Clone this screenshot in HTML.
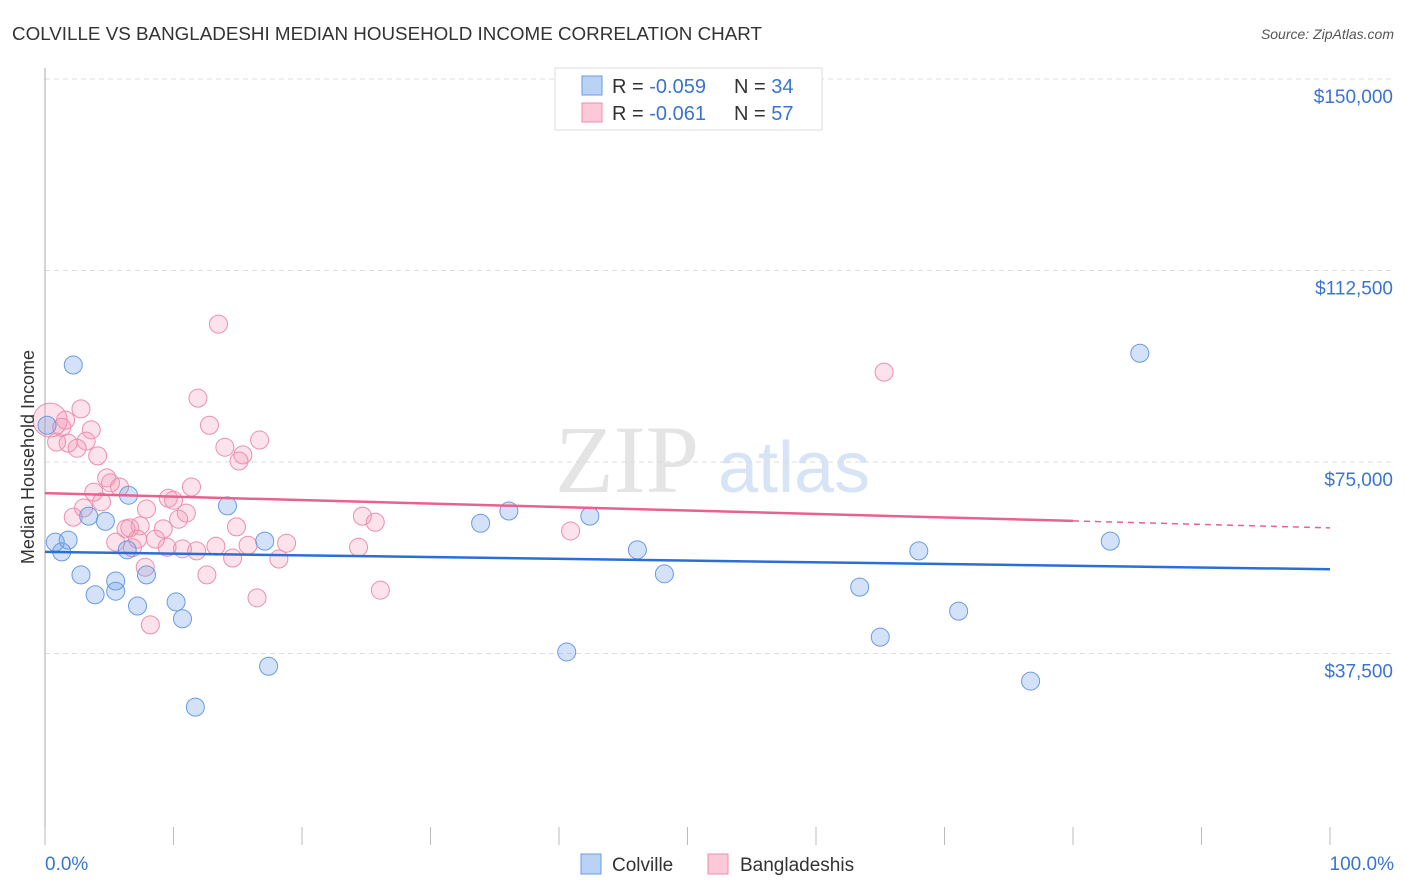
<!DOCTYPE html>
<html><head><meta charset="utf-8"><style>
body{margin:0;background:#fff;font-family:"Liberation Sans",sans-serif;}
svg{display:block}
</style></head><body>
<svg id="chart" width="1406" height="892">
<text x="12" y="40" font-size="18" fill="#333" textLength="750" lengthAdjust="spacingAndGlyphs">COLVILLE VS BANGLADESHI MEDIAN HOUSEHOLD INCOME CORRELATION CHART</text>
<text x="1394" y="39" font-size="14" fill="#555" font-style="italic" text-anchor="end">Source: ZipAtlas.com</text>
<text x="555" y="492" font-size="96" fill="#e4e4e4" font-family="Liberation Serif">ZIP</text>
<text x="718" y="492" font-size="72" fill="#d6e4f5">atlas</text>
<g id="grid"></g>
<g id="axes"></g>
<g id="marks"></g>
<text transform="translate(34,457) rotate(-90)" font-size="18" fill="#333" text-anchor="middle">Median Household Income</text>
<g>
<rect x="555" y="68" width="267" height="62" fill="#fff" stroke="#ddd"/>
<rect x="582" y="76" width="20" height="19" fill="#b9d2f5" stroke="#6a9be0"/>
<rect x="582" y="103" width="20" height="19" fill="#fbc9d8" stroke="#eb8fae"/>
<text x="612" y="93" font-size="20" fill="#333">R = <tspan fill="#3a74d0">-0.059</tspan></text>
<text x="734" y="93" font-size="20" fill="#333">N = <tspan fill="#3a74d0">34</tspan></text>
<text x="612" y="120" font-size="20" fill="#333">R = <tspan fill="#3a74d0"> -0.061</tspan></text>
<text x="734" y="120" font-size="20" fill="#333">N = <tspan fill="#3a74d0">57</tspan></text>
</g>
<g>
<rect x="581" y="854" width="20" height="20" fill="#b9d2f5" stroke="#6a9be0"/>
<text x="612" y="871" font-size="19" fill="#333">Colville</text>
<rect x="708" y="854" width="20" height="20" fill="#fbc9d8" stroke="#eb8fae"/>
<text x="740" y="871" font-size="19" fill="#333">Bangladeshis</text>
</g>
</svg>
<script>
const yTicks=[37500,75000,112500,150000];
const yTickLabels=["$37,500","$75,000","$112,500","$150,000"];
const blueX=[0.16,2.2,0.8,1.8,1.3,2.8,3.9,3.4,4.7,6.5,6.4,5.5,5.5,7.2,7.9,10.2,10.7,11.7,14.2,17.1,17.4,33.9,36.1,40.6,42.4,46.1,48.2,63.4,65.0,68.0,71.1,76.7,82.9,85.2];
const blueY=[82200,94000,59300,59700,57400,52900,49000,64400,63400,68500,57800,51700,49700,46800,52900,47600,44300,27000,66400,59500,35000,63000,65400,37800,64400,57800,53100,50500,40700,57600,45800,32100,59500,96300];
const pinkX=[0.4,1.6,2.8,3.6,3.2,2.5,1.8,0.9,1.3,4.1,11.9,12.8,14.0,15.4,15.1,16.7,13.5,4.8,5.1,5.8,3.8,4.4,2.2,7.9,9.6,10.0,11.4,11.0,10.4,7.4,6.3,6.6,9.2,7.2,5.5,8.6,9.5,10.7,11.8,13.3,14.9,15.8,14.6,6.8,18.8,18.2,12.6,7.8,8.2,16.5,24.7,25.7,24.4,26.1,40.9,65.3,3.0];
const pinkY=[83200,83200,85400,81300,79100,77700,78700,78900,81800,76200,87500,82200,77900,76400,75200,79300,102000,71900,70900,70100,69100,67200,64200,65800,67900,67500,70100,65000,63800,62500,61900,62100,61900,59900,59300,59900,58300,58000,57600,58500,62300,58700,56200,58200,59100,56000,52900,54400,43100,48400,64400,63200,58300,49900,61500,92600,66000];
const blueTrend=[57400,54000];
const pinkTrend=[68900,62100];
const pinkSolidEnd=80;
const NS="http://www.w3.org/2000/svg";
const X=p=>45+p*12.85;
const Y=v=>845-v/37500*191.5;
function mk(tag,attrs,parent){const e=document.createElementNS(NS,tag);for(const k in attrs)e.setAttribute(k,attrs[k]);document.getElementById(parent).appendChild(e);return e;}
yTicks.forEach((t,i)=>{
  const g=mk('line',{x1:45,x2:1394,y1:Y(t),y2:Y(t),stroke:'#ddd','stroke-dasharray':'5,4'},'grid');
  
  
  const l=mk('text',{x:1393,y:Y(t)+24,'font-size':19,fill:'#3a74d0','text-anchor':'end'},'grid');
  l.textContent=yTickLabels[i];
  
  
});
const ya=mk('line',{x1:45,x2:45,y1:68,y2:845,stroke:'#aaa'},'axes');


for(let i=0;i<=10;i++){
  const t=mk('line',{x1:X(i*10),x2:X(i*10),y1:827,y2:845,stroke:'#bbb'},'axes');
  
  
}
const x0=mk('text',{x:45,y:870,'font-size':19,fill:'#3a74d0'},'axes');x0.textContent='0.0%';


const x1=mk('text',{x:1394,y:870,'font-size':19,fill:'#3a74d0','text-anchor':'end'},'axes');x1.textContent='100.0%';


pinkX.forEach((x,i)=>{
  const c=mk('circle',{cx:X(x),cy:Y(pinkY[i]),r:i===0?17:9,fill:'rgba(244,150,180,0.28)',stroke:'#eb8fae','stroke-width':1},'marks');
  
  
});
blueX.forEach((x,i)=>{
  const c=mk('circle',{cx:X(x),cy:Y(blueY[i]),r:9,fill:'rgba(110,160,235,0.3)',stroke:'#6a9be0','stroke-width':1},'marks');
  
  
});
const bt=mk('line',{x1:X(0),x2:X(100),y1:Y(blueTrend[0]),y2:Y(blueTrend[1]),stroke:'#2a6fd6','stroke-width':2.5},'marks');


const pm=pinkTrend[0]+(pinkTrend[1]-pinkTrend[0])*pinkSolidEnd/100;
const pt=mk('line',{x1:X(0),x2:X(pinkSolidEnd),y1:Y(pinkTrend[0]),y2:Y(pm),stroke:'#e8628f','stroke-width':2.5},'marks');


const pd=mk('line',{x1:X(pinkSolidEnd),x2:X(100),y1:Y(pm),y2:Y(pinkTrend[1]),stroke:'#e8628f','stroke-width':1.5,'stroke-dasharray':'6,5'},'marks');


</script>
</body></html>
